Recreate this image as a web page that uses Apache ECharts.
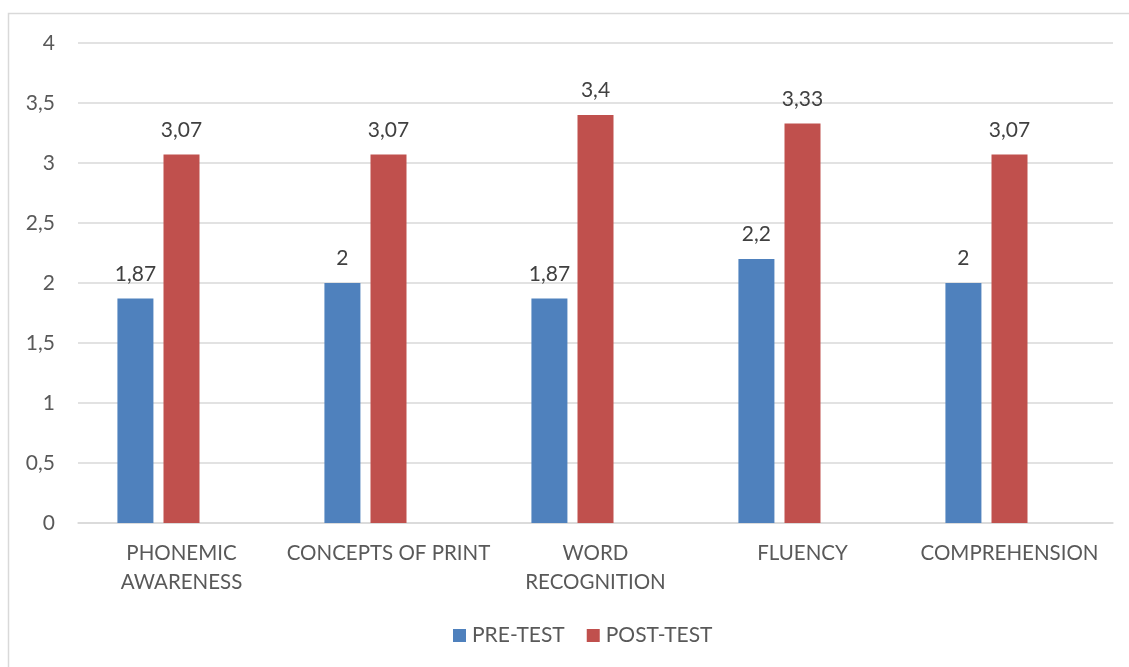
<!DOCTYPE html>
<html>
<head>
<meta charset="utf-8">
<script src="https://cdn.jsdelivr.net/npm/echarts@6/dist/echarts.min.js"></script>
<style>
  html, body { margin: 0; padding: 0; background: #fff; }
  #chart { width: 1129px; height: 667px; }
</style>
</head>
<body>
<div id="chart"></div>
<script>
// Reading skills scores, before and after the programme
const categories = ['PHONEMIC\nAWARENESS', 'CONCEPTS OF PRINT', 'WORD\nRECOGNITION', 'FLUENCY', 'COMPREHENSION'];
const preTest = [1.87, 2, 1.87, 2.2, 2];
const postTest = [3.07, 3.07, 3.4, 3.33, 3.07];
const seriesNames = ['PRE-TEST', 'POST-TEST'];

const FONT = 'Lato, "Open Sans", sans-serif';
const TEXT = '#595959';
const GRID = '#D9D9D9';

const fmt = v => String(v).replace('.', ',');

const chart = echarts.init(document.getElementById('chart'), null, { renderer: 'canvas' });

const labelStyle = {
  show: true,
  position: 'top',
  distance: 14,
  color: '#404040',
  fontFamily: FONT,
  fontSize: 21,
  formatter: p => fmt(p.value)
};

chart.setOption({
  backgroundColor: '#fff',
  animation: false,
  textStyle: { fontFamily: FONT },
  graphic: [{
    type: 'rect',
    shape: { x: 8.5, y: 13.5, width: 1200, height: 700 },
    style: { fill: 'none', stroke: GRID, lineWidth: 1.5 },
    silent: true
  }],
  grid: { left: 78, right: 16, top: 43, bottom: 144, containLabel: false },
  legend: {
    data: seriesNames,
    bottom: 16,
    left: 448,
    icon: 'rect',
    itemWidth: 13,
    itemHeight: 13,
    itemGap: 22,
    textStyle: { color: TEXT, fontFamily: FONT, fontSize: 21, padding: [0, 0, 0, 1] }
  },
  xAxis: {
    type: 'category',
    data: categories,
    axisLine: { lineStyle: { color: GRID, width: 1.5 } },
    axisTick: { show: false },
    axisLabel: {
      color: TEXT,
      fontFamily: FONT,
      fontSize: 20.5,
      lineHeight: 29,
      margin: 16,
      interval: 0
    }
  },
  yAxis: {
    type: 'value',
    min: 0,
    max: 4,
    interval: 0.5,
    axisLine: { show: false },
    axisTick: { show: false },
    splitLine: { lineStyle: { color: GRID, width: 1.5 } },
    axisLabel: {
      color: TEXT,
      fontFamily: FONT,
      fontSize: 21,
      margin: 23,
      formatter: v => fmt(v)
    }
  },
  series: [
    {
      name: seriesNames[0],
      type: 'bar',
      data: preTest,
      barWidth: 36,
      barGap: '28%',
      itemStyle: { color: '#4F81BD' },
      label: labelStyle
    },
    {
      name: seriesNames[1],
      type: 'bar',
      data: postTest,
      barWidth: 36,
      barGap: '28%',
      itemStyle: { color: '#C0504D' },
      label: labelStyle
    },
    {
      // empty slot that keeps the pair left of each category centre
      name: '',
      type: 'bar',
      data: categories.map(() => null),
      barWidth: 36,
      barGap: '28%'
    }
  ]
});
</script>
</body>
</html>
